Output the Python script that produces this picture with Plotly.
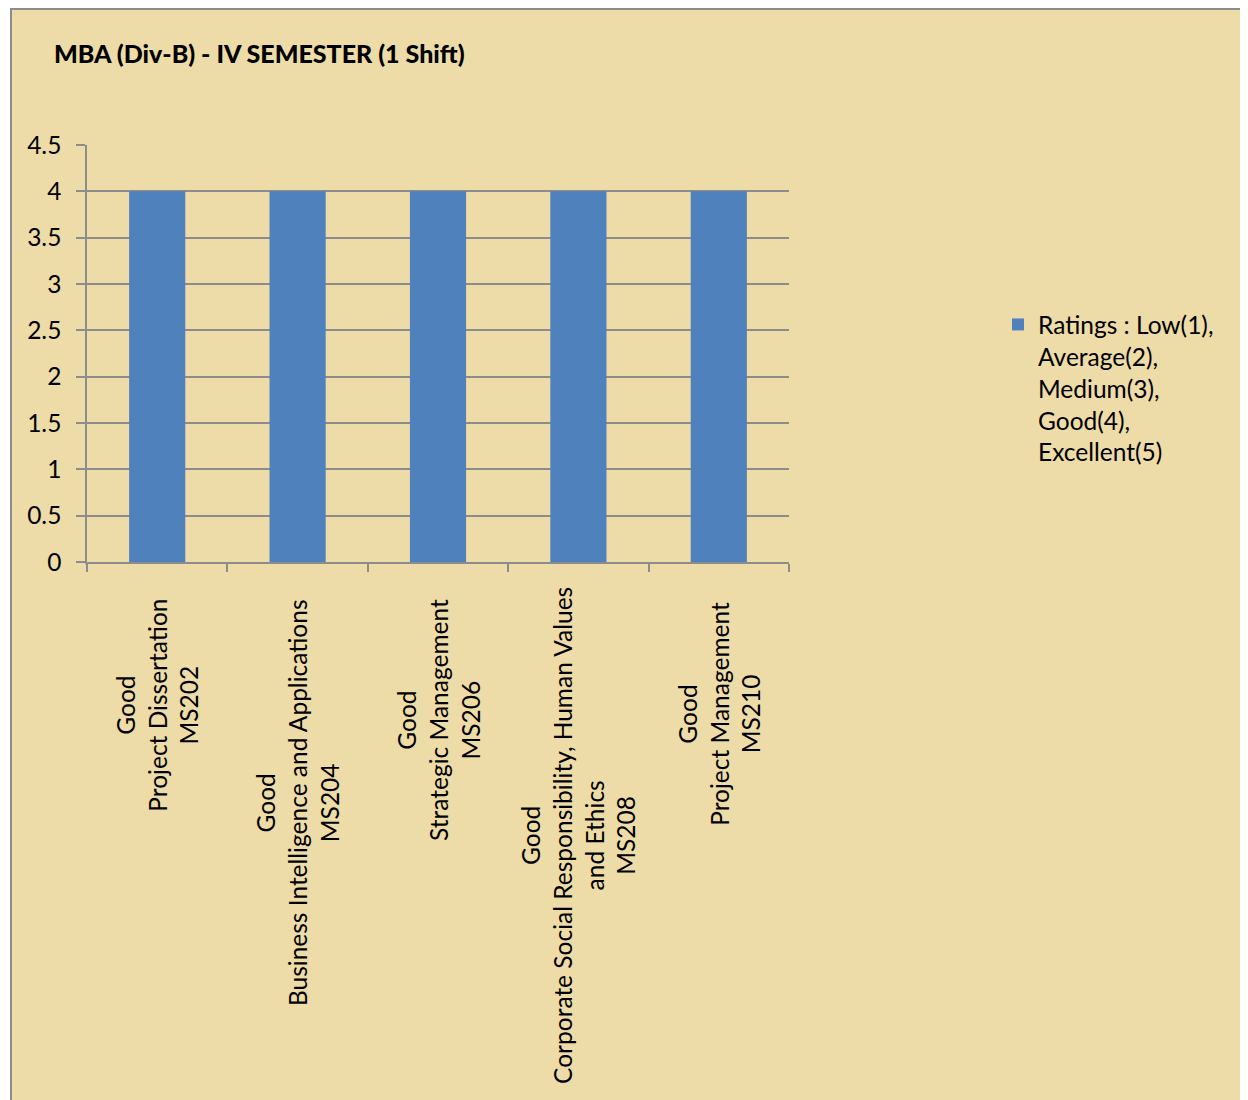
import plotly.graph_objects as go

# ---- data ----
categories = [
    "Good<br>Project Dissertation<br>MS202",
    "Good<br>Business Intelligence and Applications<br>MS204",
    "Good<br>Strategic Management<br>MS206",
    "Good<br>Corporate Social Responsibility, Human Values<br>and Ethics<br>MS208",
    "Good<br>Project Management<br>MS210",
]
ratings = [4, 4, 4, 4, 4]
series_name = "Ratings : Low(1),<br>Average(2),<br>Medium(3),<br>Good(4),<br>Excellent(5)"
y_ticks = [0, 0.5, 1, 1.5, 2, 2.5, 3, 3.5, 4, 4.5]
y_tick_text = ["0", "0.5", "1", "1.5", "2", "2.5", "3", "3.5", "4", "4.5"]
title_text = "MBA (Div-B) - IV SEMESTER (1 Shift)"

# ---- layout constants (page has an 8px body margin) ----
OFF = 8
W, H = 1240, 1092
ML = 87 - OFF
MT = 145 - OFF
MR = W - (789 - OFF)
MB = H - (562 - OFF)
PW, PH = W - ML - MR, H - MT - MB
FONT = "Lato, Liberation Sans, sans-serif"
FS = 24.5
GRID = "#8C8C8C"
BG = "#EDDBA8"


def px_x(px):
    """screen px -> paper x"""
    return (px - OFF - ML) / PW


def px_y(py):
    """screen px -> paper y"""
    return (H - MB - (py - OFF)) / PH


label_tops = [597, 597, 597, 585, 600]

fig = go.Figure()
fig.add_trace(go.Bar(
    x=list(range(len(categories))),
    y=ratings,
    name=series_name,
    marker=dict(color="#4F81BD", line=dict(width=0)),
    width=0.4,
    showlegend=True,
))

annotations = []
for i, c in enumerate(categories):
    annotations.append(dict(
        x=i, xref="x", y=px_y(label_tops[i]), yref="paper",
        text=c, showarrow=False, textangle=-90,
        xanchor="center", yanchor="top", align="center",
        font=dict(family=FONT, size=FS, color="black"),
    ))

fig.update_layout(
    width=W, height=H,
    margin=dict(l=ML, r=MR, t=MT, b=MB, autoexpand=False),
    paper_bgcolor="white",
    plot_bgcolor="white",
    title=dict(
        text=title_text,
        x=(54 - OFF) / W, xref="container", xanchor="left",
        y=1 - (54 - OFF) / H, yref="container", yanchor="middle",
        font=dict(family="Lato, Liberation Sans, sans-serif", size=25, color="black", weight=900),
    ),
    xaxis=dict(
        type="category",
        tickmode="array", tickvals=list(range(len(categories))), ticktext=[""] * len(categories),
        range=[-0.5, len(categories) - 0.5],
        showticklabels=False,
        ticks="outside", tickson="boundaries", ticklen=8, tickcolor=GRID, tickwidth=1.5,
        showline=True, linecolor=GRID, linewidth=1.5,
        showgrid=False, zeroline=False,
    ),
    yaxis=dict(
        range=[0, 4.5],
        tickmode="array", tickvals=y_ticks, ticktext=y_tick_text,
        ticks="outside", ticklen=9, tickcolor=GRID, tickwidth=1.5,
        ticklabelstandoff=10,
        tickfont=dict(family=FONT, size=FS, color="black"),
        showline=True, linecolor=GRID, linewidth=1.5,
        showgrid=True, gridcolor=GRID, gridwidth=1.5,
        zeroline=False,
    ),
    legend=dict(
        x=px_x(998), xanchor="left",
        y=px_y(302), yanchor="top",
        valign="top",
        bgcolor="rgba(0,0,0,0)",
        font=dict(family=FONT, size=FS, color="black"),
        itemwidth=30,
    ),
    bargap=0.6,
    annotations=annotations,
    shapes=[dict(
        type="rect", xref="paper", yref="paper", layer="below",
        x0=px_x(11), x1=px_x(1246), y0=px_y(1103), y1=px_y(9),
        fillcolor=BG, line=dict(color="#8C8C8C", width=2),
    )],
)

fig.write_html("out.html")
